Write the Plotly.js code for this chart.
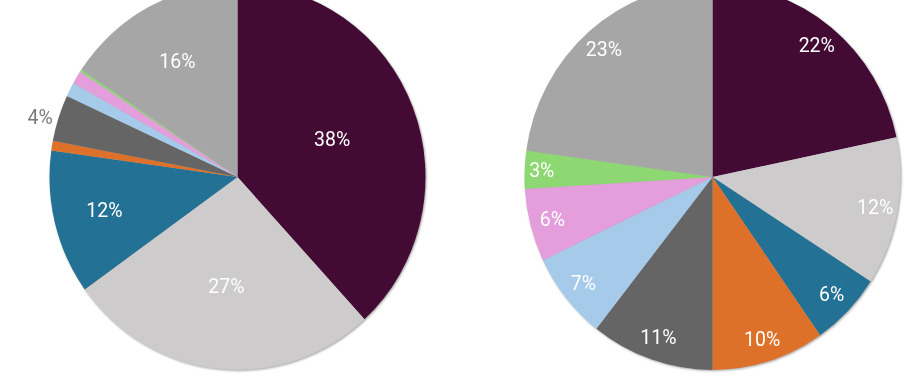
<!DOCTYPE html>
<html>
<head>
<meta charset="utf-8">
<script src="https://cdn.plot.ly/plotly-3.0.1.min.js"></script>
<style>
  html, body { margin: 0; padding: 0; background: #ffffff; overflow: hidden; width: 908px; height: 378px; }
  #chart { width: 908px; height: 420px; margin-top: -33px; transform: scaleY(1.026); transform-origin: 454px 210px; }
  /* soft drop shadow on the two filled pies only */
  #chart .pielayer .trace:nth-child(-n+2) { filter: drop-shadow(1.5px 1.5px 1px rgba(0,0,0,0.35)); }
</style>
</head>
<body>
<div id="chart"></div>
<script>
// Categories shared by both pies (order = clockwise from 12 o'clock)
const categories = ['Category 1', 'Category 2', 'Category 3', 'Category 4', 'Category 5',
                    'Category 6', 'Category 7', 'Category 8', 'Category 9'];
const colors = ['#430b34', '#cdcbcc', '#237194', '#dd7129', '#656565',
                '#a6caea', '#e39edb', '#8dd873', '#a6a6a6'];

// Left pie values (percent shares)
const leftValues = [38.2, 26.9, 12.1, 0.8, 3.9, 1.2, 1.1, 0.2, 15.6];
// Right pie values
const rightValues = [21.7, 12.4, 6.2, 9.7, 10.6, 7.3, 6.1, 3.2, 22.8];

// Which labels are shown and where (two label rings for the left pie)
const leftTextPosOuter = ['none', 'none', 'inside', 'none', 'outside', 'none', 'none', 'none', 'inside'];
const leftTextPosInner = ['inside', 'inside', 'none', 'none', 'none', 'none', 'none', 'none', 'none'];
const rightTextPos = ['inside', 'inside', 'inside', 'inside', 'inside', 'inside', 'inside', 'inside', 'inside'];
const leftTextColors = ['#ffffff', '#ffffff', '#ffffff', '#ffffff', '#7a7a7a', '#ffffff', '#ffffff', '#ffffff', '#ffffff'];

const W = 908, H = 420, R = 188;
const leftCx = 237.5, rightCx = 712.5;
const FONT = 'Roboto, sans-serif';
const FS = 19.5;

function dom(cx) {
  return { x: [(cx - R) / W, (cx + R) / W], y: [0, 1] };
}

// Filled slices, no text
function pieFill(values, cx) {
  return {
    type: 'pie', labels: categories, values: values, sort: false,
    direction: 'clockwise', rotation: 0,
    marker: { colors: colors, line: { width: 0 } },
    textinfo: 'none', showlegend: false, hoverinfo: 'skip',
    domain: dom(cx)
  };
}

// Transparent ring carrying only the percentage labels, to place them radially
function pieText(values, cx, hole, textpos, textcolors) {
  return {
    type: 'pie', labels: categories, values: values, sort: false,
    direction: 'clockwise', rotation: 0, hole: hole,
    marker: { colors: categories.map(() => 'rgba(0,0,0,0)'), line: { width: 0 } },
    texttemplate: '%{percent:.0%}',
    textposition: textpos,
    insidetextorientation: 'horizontal',
    textfont: { family: FONT, size: FS, color: textcolors },
    outsidetextfont: { family: FONT, size: FS, color: textcolors },
    showlegend: false, hoverinfo: 'skip',
    domain: dom(cx)
  };
}

const data = [
  pieFill(leftValues, leftCx),
  pieFill(rightValues, rightCx),
  pieText(leftValues, leftCx, 0.3, leftTextPosOuter, leftTextColors),
  pieText(leftValues, leftCx, 0.08, leftTextPosInner, leftTextColors),
  pieText(rightValues, rightCx, 0.76, rightTextPos, '#ffffff')
];

const layout = {
  width: W, height: H,
  margin: { l: 0, r: 0, t: 0, b: 0 },
  paper_bgcolor: '#ffffff', plot_bgcolor: '#ffffff',
  showlegend: false,
  uniformtext: { mode: 'show', minsize: FS }
};

Plotly.newPlot('chart', data, layout, { displayModeBar: false, staticPlot: true });
</script>
</body>
</html>
